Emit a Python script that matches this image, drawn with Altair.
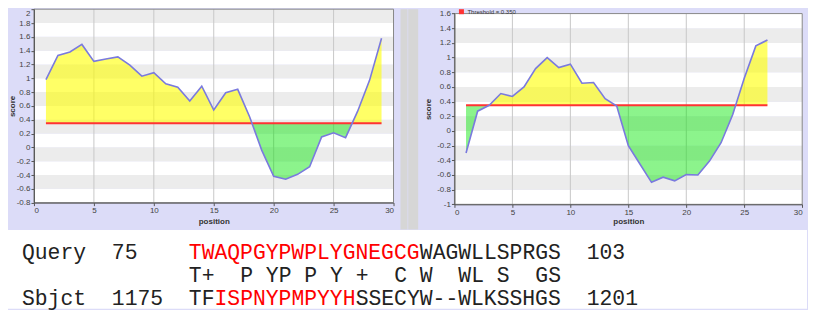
import altair as alt
import pandas as pd

# ---------------- data ----------------
THRESHOLD = 0.35
THRESHOLD_LABEL = "Threshold = 0.350"

left_position = list(range(1, 30))
left_score = [0.98, 1.33, 1.38, 1.49, 1.245, 1.28, 1.31, 1.19, 1.03, 1.08,
              0.92, 0.87, 0.67, 0.885, 0.54, 0.79, 0.84, 0.44, -0.04, -0.42,
              -0.46, -0.39, -0.28, 0.15, 0.21, 0.14, 0.52, 0.97, 1.58]

right_position = list(range(1, 28))
right_score = [-0.30, 0.27, 0.35, 0.51, 0.47, 0.60, 0.85, 1.00, 0.865, 0.91,
               0.65, 0.66, 0.44, 0.34, -0.20, -0.45, -0.70, -0.63, -0.68, -0.595,
               -0.60, -0.41, -0.16, 0.22, 0.72, 1.16, 1.24]

left_y_ticks = [-0.8, -0.6, -0.4, -0.2, 0, 0.2, 0.4, 0.6, 0.8, 1, 1.2, 1.4, 1.6, 1.8, 2]
right_y_ticks = [-1, -0.8, -0.6, -0.4, -0.2, 0, 0.2, 0.4, 0.6, 0.8, 1, 1.2, 1.4, 1.6]
x_ticks = [0, 5, 10, 15, 20, 25, 30]
grid_x = [5, 10, 15, 20, 25]

query_label = "Query"
query_start = "75"
query_seq = "TWAQPGYPWPLYGNEGCGWAGWLLSPRGS"
query_end = "103"
query_red = "TWAQPGYPWPLYGNEGCG"
match_line = "T+  P YP P Y +  C W  WL S  GS"
sbjct_label = "Sbjct"
sbjct_start = "1175"
sbjct_seq = "TFISPNYPMPYYHSSECYW--WLKSSHGS"
sbjct_end = "1201"
sbjct_red = "ISPNYPMPYYH"

# ---------------- styles ----------------
LAVENDER = "#dcdcf8"
OUTER_GRAY = "#d6d6d6"
BAND_GRAY = "#ececec"
YELLOW = "rgba(255,255,0,0.6)"
GREEN = "rgba(0,230,0,0.45)"
LINE = "#7a7ade"
RED = "#ff3333"
SANS = "Liberation Sans"
MONO = "Liberation Mono"


def panel(pos, score, y_ticks, W, H, top, box, strip, title_x, xtitle_y, show_legend):
    GH = top + H  # group height
    xs = alt.Scale(domain=[x_ticks[0], x_ticks[-1]], nice=False, zero=False)
    ys = alt.Scale(domain=[y_ticks[0], y_ticks[-1]], range=[GH, top], nice=False, zero=False)
    if top < 4:
        lbl_base = {"condition": {"test": "datum.value == %s" % y_ticks[-1], "value": "top"},
                    "value": "middle"}
    else:
        lbl_base = "middle"
    yaxis = alt.Axis(values=y_ticks, labelExpr="toString(round(datum.value*10)/10)",
                     grid=False, tickSize=3, tickColor="#555", domainColor="#555",
                     labelFont=SANS, labelFontSize=8, labelColor="#444", labelPadding=1,
                     labelBaseline=lbl_base,
                     title="score", titleFont=SANS, titleFontSize=8, titleFontWeight="bold",
                     titleColor="#333", titleX=title_x, titleY=top + H / 2, titleAngle=270,
                     titleAlign="center", titleBaseline="middle", zindex=1)
    xaxis = alt.Axis(values=x_ticks, grid=False, tickSize=3, tickColor="#555",
                     domainColor="#555", labelFont=SANS, labelFontSize=8,
                     labelColor="#444", labelPadding=1, title="position",
                     titleFont=SANS, titleFontSize=8, titleFontWeight="bold",
                     titleColor="#333", titleX=W / 2, titleY=xtitle_y,
                     titleAlign="center", titleBaseline="middle", zindex=1)

    df = pd.DataFrame({"position": pos, "score": score, "thr": THRESHOLD})
    bands_df = pd.DataFrame({"lo": y_ticks[:-1], "hi": y_ticks[1:],
                             "fill": [BAND_GRAY if i % 2 else "white" for i in range(len(y_ticks) - 1)]})
    one = pd.DataFrame({"k": [0]})
    thr_df = pd.DataFrame({"x": [pos[0]], "x2": [pos[-1]], "t": [THRESHOLD], "label": [THRESHOLD_LABEL]})
    grid_df = pd.DataFrame({"g": grid_x})

    vmax = max(max(score), THRESHOLD)
    vmin = min(min(score), THRESHOLD)
    f = (vmax - THRESHOLD) / (vmax - vmin)
    grad = alt.Gradient(gradient="linear", x1=0, x2=0, y1=0, y2=1,
                        stops=[alt.GradientStop(color=YELLOW, offset=0),
                               alt.GradientStop(color=YELLOW, offset=f),
                               alt.GradientStop(color=GREEN, offset=f),
                               alt.GradientStop(color=GREEN, offset=1)])

    X = lambda fld: alt.X(fld, scale=xs, axis=xaxis)
    Y = lambda fld: alt.Y(fld, scale=ys, axis=yaxis)

    bx0, bx1, by0, by1 = box
    layers = []
    # invisible spacers (page-background colour) fixing the panel's outer box
    for sx in (bx0, bx1 - 2):
        layers.append(alt.Chart(one).mark_rect(color=LAVENDER).encode(
            x=alt.value(sx), x2=alt.value(sx + 2), y=alt.value(by0), y2=alt.value(by1)))
    layers.append(alt.Chart(one).mark_rect(color=OUTER_GRAY).encode(
        x=alt.value(strip[0]), x2=alt.value(strip[1]), y=alt.value(by0), y2=alt.value(by1)))
    layers.append(alt.Chart(bands_df).mark_rect().encode(
        x=alt.value(0), x2=alt.value(W), y=Y("lo:Q"), y2="hi:Q",
        color=alt.Color("fill:N", scale=None)))
    layers.append(alt.Chart(grid_df).mark_rule(color="#c8c8c8", strokeWidth=1).encode(
        x=X("g:Q"), y=alt.value(top), y2=alt.value(GH)))
    layers.append(alt.Chart(df).mark_area(color=grad).encode(
        x=X("position:Q"), y=Y("score:Q"), y2="thr:Q"))
    legend = alt.Legend(orient="none", legendX=4, legendY=-0.5, title=None,
                        symbolType="square", symbolSize=25, symbolStrokeWidth=0,
                        labelFont=SANS, labelFontSize=6, labelColor="#333",
                        labelOffset=3, padding=0) if show_legend else None
    layers.append(alt.Chart(thr_df).mark_rect(stroke=RED, strokeWidth=2).encode(
        x=X("x:Q"), x2="x2:Q", y=Y("t:Q"), y2="t:Q",
        color=alt.Color("label:N", scale=alt.Scale(domain=[THRESHOLD_LABEL], range=[RED]),
                        legend=legend)))
    layers.append(alt.Chart(df).mark_line(color=LINE, strokeWidth=1.6).encode(
        x=X("position:Q"), y=Y("score:Q")))
    layers.append(alt.Chart(one).mark_rect(filled=False, stroke="#888", strokeWidth=1).encode(
        x=alt.value(0), x2=alt.value(W), y=alt.value(top), y2=alt.value(GH)))
    return alt.layer(*layers).properties(width=W, height=GH)


WL, HL = 360, 193.7
WR, HR = 348.2, 191
# two 400 px wide panel boxes; the grey gap between them is split over the two
left = panel(left_position, left_score, left_y_ticks, WL, HL, top=0,
             box=(-26, 374, 0, 220.7), strip=(367, 374), title_x=-21.5, xtitle_y=19,
             show_legend=False)
right = panel(right_position, right_score, right_y_ticks, WR, HR, top=4.4,
              box=(-46.3, 353.7, 0, 220.7), strip=(-46.3, -36.3), title_x=-26, xtitle_y=17.3,
              show_legend=True)

top_row = alt.hconcat(left, right, spacing=0).resolve_scale(
    x="independent", y="independent", color="independent")

# ---------------- alignment text ----------------
COL_SEQ = 13
line0 = query_label.ljust(7) + query_start.ljust(COL_SEQ - 7) + query_seq + "  " + query_end
line1 = " " * COL_SEQ + match_line
line2 = sbjct_label.ljust(7) + sbjct_start.ljust(COL_SEQ - 7) + sbjct_seq + "  " + sbjct_end
q0 = COL_SEQ + query_seq.index(query_red)
s0 = COL_SEQ + sbjct_seq.index(sbjct_red)
red_cols = [set(range(q0, q0 + len(query_red))), set(), set(range(s0, s0 + len(sbjct_red)))]

rows = []
for r, (line, reds) in enumerate(zip([line0, line1, line2], red_cols)):
    c = 0
    while c < len(line):
        if line[c] == " ":
            c += 1
            continue
        start = c
        colr = "#ff0000" if c in reds else "#222222"
        while c < len(line) and line[c] != " " and (("#ff0000" if c in reds else "#222222") == colr):
            c += 1
        rows.append({"row": r, "col": start, "text": line[start:c], "color": colr})
text_df = pd.DataFrame(rows)

TW, TH = 770, 79
CW = 12.85
RH = 23.0
tx0 = 12 / CW
ty0 = -29.0 / RH
one = pd.DataFrame({"k": [0]})
white_bg = alt.Chart(one).mark_rect(color="white").encode(
    x=alt.value(-26), x2=alt.value(774), y=alt.value(0), y2=alt.value(TH))
text_marks = alt.Chart(text_df).mark_text(
    align="left", baseline="alphabetic", font=MONO, fontSize=21.4).encode(
    x=alt.X("col:Q", scale=alt.Scale(domain=[tx0, tx0 + TW / CW], nice=False, zero=False), axis=None),
    y=alt.Y("row:Q", scale=alt.Scale(domain=[ty0, ty0 + TH / RH], nice=False, zero=False, reverse=True), axis=None),
    text="text:N",
    color=alt.Color("color:N", scale=None),
)
text_chart = alt.layer(white_bg, text_marks).properties(width=TW, height=TH)

chart = alt.vconcat(top_row, text_chart, spacing=0, padding=0, background=LAVENDER).resolve_scale(
    x="independent", y="independent", color="independent"
).configure_view(strokeWidth=0)

chart.save("out.html", embed_options={"renderer": "svg", "actions": False})
